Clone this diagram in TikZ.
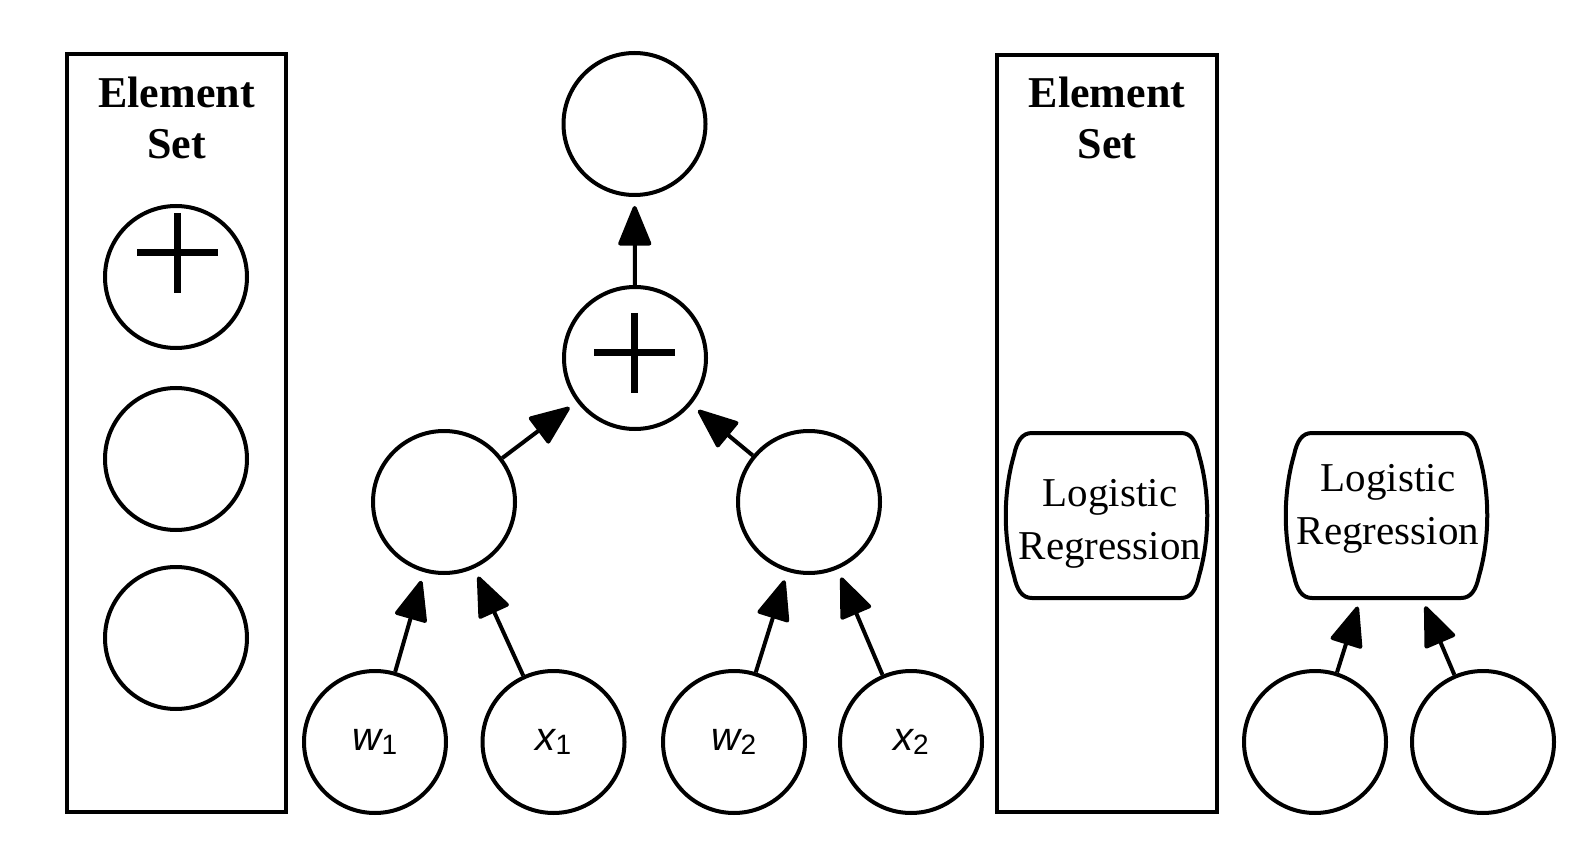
\documentclass[tikz,border=0pt]{standalone}
\usepackage{fontspec}
\setmainfont{Liberation Serif}
\newfontfamily\labfont{Liberation Sans}
\usetikzlibrary{arrows.meta,calc}
\newcommand\lrout[1]{%
\draw[line width=4pt,line join=round]
 ($(#1.north west)+(27,0)$) -- ($(#1.north east)+(-27,0)$)
 .. controls ($(#1.north east)+(-17,0)$) and ($(#1.north east)+(-12,8)$) .. ($(#1.north east)+(-9,22)$)
 .. controls ($(#1.north east)+(2,60)$) and ($(#1.south east)+(2,-60)$) .. ($(#1.south east)+(-9,-22)$)
 .. controls ($(#1.south east)+(-12,-8)$) and ($(#1.south east)+(-17,0)$) .. ($(#1.south east)+(-27,0)$)
 -- ($(#1.south west)+(27,0)$)
 .. controls ($(#1.south west)+(17,0)$) and ($(#1.south west)+(12,-8)$) .. ($(#1.south west)+(9,-22)$)
 .. controls ($(#1.south west)+(-2,-60)$) and ($(#1.north west)+(-2,60)$) .. ($(#1.north west)+(9,22)$)
 .. controls ($(#1.north west)+(12,8)$) and ($(#1.north west)+(17,0)$) .. cycle;}
\begin{document}
\begin{tikzpicture}[x=1pt,y=-1pt,
  ball/.style={circle,draw,line width=4pt,minimum size=142pt,inner sep=0pt},
  frame/.style={draw,line width=4.5pt},
  conn/.style={line width=4pt,-{Triangle[length=43pt,width=34pt,round]},shorten >=9pt},
  plusline/.style={line width=7pt},
  title/.style={font=\fontsize{44}{51}\selectfont\bfseries,align=center},
  lrtext/.style={font=\fontsize{41}{53}\selectfont,align=center},
  lrbox/.style={rectangle,minimum width=203pt,minimum height=165pt,inner sep=0pt,outer sep=0pt},
  var/.style={font=\labfont\fontsize{40}{40}\selectfont}
]
\useasboundingbox (0,0) rectangle (1588,842);
% left frame
\draw[frame] (67,54) rectangle (286,812);
\node[title] (t1) at (176.5,118.3) {Element\\Set};
\node[ball] (e1) at (176,277) {};
\node[ball] (e2) at (176,459) {};
\node[ball] (e3) at (176,638) {};
\draw[plusline] ($(e1)+(-39,-24)$) -- ($(e1)+(42,-24)$);
\draw[plusline] ($(e1)+(1,-64)$) -- ($(e1)+(1,16)$);
% middle tree
\node[ball] (top) at (634.5,124) {};
\node[ball] (p) at (635,358) {};
\draw[plusline] ($(p)+(-41,-5)$) -- ($(p)+(40,-5)$);
\draw[plusline] ($(p)+(-1,-45)$) -- ($(p)+(-1,35)$);
\node[ball] (m1) at (444,502) {};
\node[ball] (m2) at (809,502) {};
\node[ball,var] (w1) at (375,742) {\itshape w\raisebox{-4pt}{\fontsize{28}{28}\selectfont\upshape 1}};
\node[ball,var] (x1) at (553.5,742) {\itshape x\raisebox{-4pt}{\fontsize{28}{28}\selectfont\upshape 1}};
\node[ball,var] (w2) at (734,742) {\itshape w\raisebox{-4pt}{\fontsize{28}{28}\selectfont\upshape 2}};
\node[ball,var] (x2) at (911,742) {\itshape x\raisebox{-4pt}{\fontsize{28}{28}\selectfont\upshape 2}};
\draw[conn] (p) -- (top);
\draw[conn] (m1) -- (p);
\draw[conn] (m2) -- (p);
\draw[conn] (w1) -- (m1);
\draw[conn] (x1) -- (m1);
\draw[conn] (w2) -- (m2);
\draw[conn] (x2) -- (m2);
% right frame
\draw[frame] (997,55) rectangle (1217,812);
\node[title] (t2) at (1107,118.3) {Element\\Set};
\node[lrbox] (lr1) at (1106.5,515.5) {};
\lrout{lr1}
\node[lrtext] (lt1) at (1110,524) {Logistic\\Regression};
% far right
\node[lrbox] (lr2) at (1386.5,515.5) {};
\lrout{lr2}
\node[lrtext] (lt2) at (1388,509) {Logistic\\Regression};
\node[ball] (b1) at (1315,742) {};
\node[ball] (b2) at (1483,742) {};
\draw[conn] (b1) -- (lr2);
\draw[conn] (b2) -- (lr2);
\end{tikzpicture}
\end{document}
